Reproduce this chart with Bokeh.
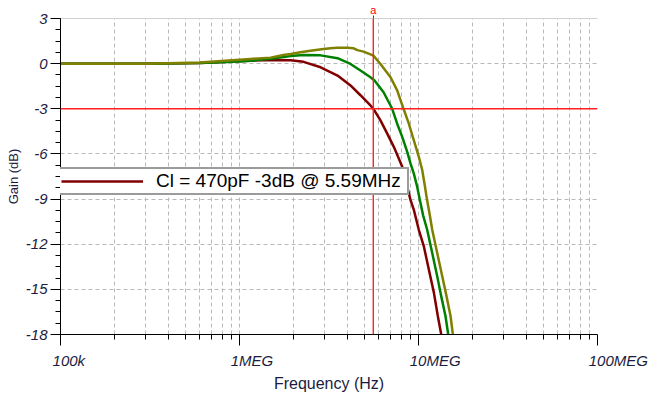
from bokeh.plotting import figure
from bokeh.models import (Span, Legend, LegendItem, FixedTicker, LogAxis,
                          SingleIntervalTicker, CustomJSTickFormatter)
from bokeh.embed import file_html
from bokeh.resources import INLINE

# ---- data ----
freq_red = [1.0e5, 3.0e5, 6.0e5, 1.15e6, 1.49e6, 1.93e6, 2.28e6, 2.84e6, 3.53e6,
            4.17e6, 4.74e6, 5.39e6, 5.60e6, 6.13e6, 6.69e6, 7.28e6, 7.76e6, 8.11e6,
            9.02e6, 9.41e6, 1.004e7, 1.071e7, 1.142e7, 1.218e7, 1.282e7, 1.339e7, 1.41e7]
gain_red = [0.0, 0.0, 0.05, 0.2, 0.24, 0.22, 0.12, -0.24, -0.79,
            -1.45, -2.1, -2.78, -3.0, -3.77, -4.65, -5.53, -6.3, -6.85,
            -9.05, -9.7, -11.04, -12.14, -13.68, -15.2, -16.77, -17.98, -19.4]

freq_green = [1.0e5, 3.0e5, 6.0e5, 9.26e5, 1.15e6, 1.49e6, 1.93e6, 2.28e6, 2.84e6,
              3.53e6, 4.17e6, 4.74e6, 5.39e6, 5.68e6, 6.38e6, 7.13e6, 7.60e6, 8.11e6,
              8.65e6, 9.02e6, 9.41e6, 9.83e6, 1.017e7, 1.062e7, 1.118e7, 1.193e7,
              1.272e7, 1.339e7, 1.415e7, 1.465e7, 1.53e7]
gain_green = [0.0, 0.0, 0.05, 0.12, 0.2, 0.32, 0.5, 0.57, 0.55,
              0.36, -0.02, -0.46, -0.9, -1.12, -1.9, -3.0, -3.99, -4.87,
              -5.86, -6.63, -7.29, -8.18, -9.05, -10.1, -11.04, -12.58,
              -14.13, -15.45, -16.77, -17.98, -19.4]

freq_olive = [1.0e5, 3.0e5, 6.0e5, 1.15e6, 1.49e6, 1.76e6, 1.93e6, 2.19e6, 2.49e6,
              2.95e6, 3.22e6, 3.53e6, 4.01e6, 4.34e6, 4.56e6, 4.93e6, 5.39e6, 5.60e6,
              6.13e6, 6.98e6, 7.60e6, 8.25e6, 8.83e6, 9.41e6, 1.004e7, 1.049e7,
              1.087e7, 1.116e7, 1.16e7, 1.193e7, 1.272e7, 1.357e7, 1.434e7, 1.51e7,
              1.555e7, 1.63e7]
gain_olive = [0.0, 0.0, 0.08, 0.31, 0.4, 0.57, 0.64, 0.75, 0.86,
              0.97, 1.02, 1.06, 1.05, 1.02, 0.9, 0.8, 0.62, 0.53,
              -0.02, -0.9, -1.78, -3.0, -3.99, -5.09, -6.19, -7.07,
              -8.18, -9.05, -10.16, -11.04, -12.58, -14.13, -15.45, -16.77,
              -17.98, -19.4]

x_tick_values = [1e5, 1e6, 1e7, 1e8]
x_tick_labels = ["100k", "1MEG", "10MEG", "100MEG"]
x_minor_mult = [2, 3, 4, 5, 6, 7, 8, 9]
y_tick_values = [3, 0, -3, -6, -9, -12, -15, -18]
y_tick_labels = ["3", "0", "-3", "-6", "-9", "-12", "-15", "-18"]

cursor_freq = 5.59e6
cursor_gain = -3.0
legend_text = "Cl = 470pF -3dB @ 5.59MHz"
cursor_name = "a"

FONT = "Liberation Sans"
LBL_COLOR = "#1c1c40"
LBL_SIZE = 15

# the reference draws x tick labels starting a little left of each tick:
# pad with no-break spaces so a centred label starts ~8px left of its tick
CHAR_W = {"0": .556, "1": .556, "k": .5, "M": .833, "E": .667, "G": .778}
SPACE_W = .278


def shifted(label):
    w = sum(CHAR_W.get(c, .556) for c in label) * LBL_SIZE
    n = max(0, round((w - 16) / (SPACE_W * LBL_SIZE)))
    return "\u00a0" * n + label


x_display = [shifted(s) for s in x_tick_labels]

p = figure(width=650, height=394, x_axis_type="log",
           x_range=(x_tick_values[0], x_tick_values[-1]),
           y_range=(y_tick_values[-1], y_tick_values[0]),
           output_backend="svg", toolbar_location=None,
           min_border_left=60, min_border_right=53,
           min_border_top=18, min_border_bottom=58)
p.background_fill_color = "white"
p.border_fill_color = "white"
p.outline_line_color = None

xt = FixedTicker(ticks=x_tick_values,
                 minor_ticks=[m * d for d in x_tick_values[:-1] for m in x_minor_mult])
yt = SingleIntervalTicker(interval=3, num_minor_ticks=4)

p.xaxis.ticker = xt
p.yaxis.ticker = yt
p.xgrid.ticker = xt
p.ygrid.ticker = yt

grid_c = "#b9b9b9"
p.xgrid.grid_line_color = grid_c
p.xgrid.grid_line_dash = "4 3"
p.xgrid.minor_grid_line_color = grid_c
p.xgrid.minor_grid_line_dash = "4 3"
p.ygrid.grid_line_color = grid_c
p.ygrid.grid_line_dash = "4 3"

for ax in (p.xaxis[0], p.yaxis[0]):
    ax.axis_line_color = "black"
    ax.major_tick_line_color = "black"
    ax.minor_tick_line_color = "black"
    ax.major_tick_in = 0
    ax.minor_tick_in = 0
    ax.minor_tick_out = 5
    ax.major_label_text_font = FONT
    ax.major_label_text_font_style = "italic"
    ax.major_label_text_font_size = f"{LBL_SIZE}px"
    ax.major_label_text_color = LBL_COLOR
    ax.axis_label_text_font = FONT
    ax.axis_label_text_font_style = "normal"
    ax.axis_label_text_color = LBL_COLOR

p.xaxis.major_tick_out = 11
p.xaxis.formatter = CustomJSTickFormatter(
    args=dict(vals=x_tick_values, labs=x_display),
    code="""
      for (let i = 0; i < vals.length; i++) {
        if (Math.abs(Math.log10(vals[i]) - Math.log10(tick)) < 1e-6) return labs[i];
      }
      return '';
    """)
p.xaxis.major_label_standoff = 6
p.xaxis.axis_label = "Frequency (Hz)"
p.xaxis.axis_label_text_font_size = "16px"
p.xaxis.axis_label_standoff = 3

p.yaxis.major_tick_out = 10
p.yaxis.major_label_overrides = {v: s for v, s in zip(y_tick_values, y_tick_labels)}
p.yaxis.major_label_standoff = 3
p.yaxis.axis_label = "Gain (dB)"
p.yaxis.axis_label_text_font_size = "13px"
p.yaxis.axis_label_standoff = 2

# top edge + cursor flag "a" as an axis above the frame
top_axis = LogAxis(ticker=FixedTicker(ticks=[cursor_freq], minor_ticks=[]),
                   major_label_overrides={cursor_freq: cursor_name})
top_axis.axis_line_color = "#d0d0d0"
top_axis.major_tick_line_color = "#ff0000"
top_axis.major_tick_out = 3
top_axis.major_tick_in = 0
top_axis.minor_tick_line_color = None
top_axis.major_label_standoff = 0
top_axis.major_label_text_color = "#ff0000"
top_axis.major_label_text_font = FONT
top_axis.major_label_text_font_size = "11px"
p.add_layout(top_axis, "above")

# curves
r_red = p.line(freq_red, gain_red, line_color="#800000", line_width=2.5)
r_green = p.line(freq_green, gain_green, line_color="#008000", line_width=2.5)
r_olive = p.line(freq_olive, gain_olive, line_color="#808000", line_width=2.5)

# cursor lines
p.add_layout(Span(location=cursor_gain, dimension="width",
                  line_color="#ff2020", line_width=1.4))
p.add_layout(Span(location=cursor_freq, dimension="height",
                  line_color="#ff2020", line_width=1.4))

legend = Legend(items=[LegendItem(label=legend_text, renderers=[r_red])],
                location=(-2, 139), orientation="vertical",
                glyph_width=82, glyph_height=12, label_standoff=13,
                label_width=250, label_height=12, padding=1, spacing=0, margin=0,
                border_line_color="#383838", border_line_width=2,
                background_fill_color="white", background_fill_alpha=1,
                label_text_font=FONT, label_text_font_size="19px",
                label_text_color="black")
p.add_layout(legend)

open("out.html", "w").write(file_html(p, INLINE))
